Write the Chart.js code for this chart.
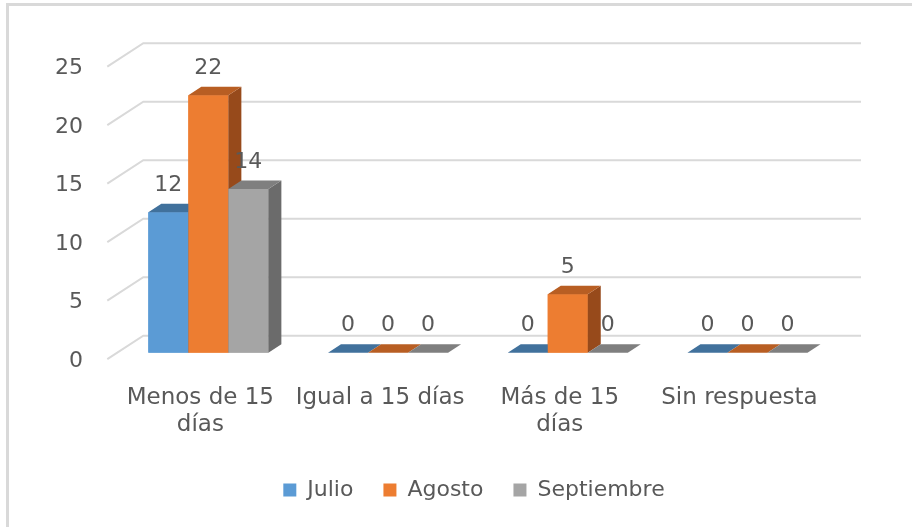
<!DOCTYPE html>
<html>
<head>
<meta charset="utf-8">
<script src="https://cdn.jsdelivr.net/npm/chart.js@4.4.0/dist/chart.umd.min.js"></script>
<style>
  html, body { margin: 0; padding: 0; background: #fff; overflow: hidden; }
  #frame { position: absolute; left: 6px; top: 3px; width: 1000px; height: 600px;
           border-left: 3px solid #d9d9d9; border-top: 3px solid #d9d9d9; }
  #wrap { position: absolute; left: 0; top: 0; width: 912px; height: 527px; }
</style>
</head>
<body>
<div id="frame"></div>
<div id="wrap"><canvas id="chart"></canvas></div>
<script>
// Chart data
const categories = [["Menos de 15", "días"], "Igual a 15 días", ["Más de 15", "días"], "Sin respuesta"];
const seriesNames = ["Julio", "Agosto", "Septiembre"];
const julio = [12, 0, 0, 0];
const agosto = [22, 0, 5, 0];
const septiembre = [14, 0, 0, 0];
const yTicks = [0, 5, 10, 15, 20, 25];

// Face colours for the 3D bars: front, top, side
const shades = [
  { front: "#5b9bd5", top: "#41719c", side: "#3a6591" },
  { front: "#ed7d31", top: "#b85e23", side: "#974a1b" },
  { front: "#a5a5a5", top: "#7f7f7f", side: "#6b6b6b" },
];

const DX = 13;   // depth offset of the bars
const DY = -8.5;
const TEXT = "#595959";

Chart.defaults.font.family = '"DejaVu Sans", sans-serif';

function poly(ctx, pts) {
  ctx.beginPath();
  ctx.moveTo(pts[0][0], pts[0][1]);
  for (let k = 1; k < pts.length; k++) ctx.lineTo(pts[k][0], pts[k][1]);
  ctx.closePath();
  ctx.fill();
}

// Back wall gridlines with the short diagonal to the floor front
const wallGrid = {
  id: "wallGrid",
  beforeDatasetsDraw(chart) {
    const { ctx, chartArea, scales } = chart;
    ctx.save();
    ctx.strokeStyle = "#d9d9d9";
    ctx.lineWidth = 2;
    yTicks.forEach((v) => {
      const py = scales.y.getPixelForValue(v);
      ctx.beginPath();
      ctx.moveTo(chartArea.left - 11.2, py + 6.5);
      ctx.lineTo(chartArea.left + 24.8, py - 17);
      ctx.lineTo(chartArea.right + 23.7, py - 17);
      ctx.stroke();
    });
    ctx.restore();
  },
};

// Redraw bars with top and side faces, then value labels
const bars3d = {
  id: "bars3d",
  afterDatasetsDraw(chart) {
    const ctx = chart.ctx;
    const metas = chart.data.datasets.map((d, i) => chart.getDatasetMeta(i));
    ctx.save();
    categories.forEach((c, j) => {
      metas.forEach((meta, i) => {
        const { x, y, base, width } = meta.data[j].getProps(["x", "y", "base", "width"], true);
        const x0 = x - width / 2;
        const x1 = x + width / 2;
        const col = shades[i];
        ctx.fillStyle = col.front;
        ctx.fillRect(x0, y, width, base - y);
        ctx.fillStyle = col.side;
        poly(ctx, [[x1, y], [x1 + DX, y + DY], [x1 + DX, base + DY], [x1, base]]);
        ctx.fillStyle = col.top;
        poly(ctx, [[x0, y], [x1, y], [x1 + DX, y + DY], [x0 + DX, y + DY]]);
      });
    });
    ctx.fillStyle = TEXT;
    ctx.font = '22px "DejaVu Sans", sans-serif';
    ctx.textAlign = "center";
    ctx.textBaseline = "middle";
    metas.forEach((meta, i) => {
      meta.data.forEach((bar, j) => {
        ctx.fillText(String(chart.data.datasets[i].data[j]), bar.x, bar.y - 27);
      });
    });
    ctx.restore();
  },
};

// Legend sits a bit right of the canvas centre
const legendShift = {
  id: "legendShift",
  afterLayout(chart) {
    chart.legend.left += 80.7;
  },
};

const ctx = document.getElementById("chart").getContext("2d");
new Chart(ctx, {
  type: "bar",
  data: {
    labels: categories,
    datasets: [julio, agosto, septiembre].map((data, i) => ({
      label: seriesNames[i],
      data: data,
      backgroundColor: shades[i].front,
      borderWidth: 0,
      categoryPercentage: 0.668,
      barPercentage: 1,
    })),
  },
  options: {
    responsive: true,
    maintainAspectRatio: false,
    animation: false,
    layout: {
      padding: { left: 30, right: 74.7, top: 60.2, bottom: 16 },
    },
    plugins: {
      tooltip: { enabled: false },
      legend: {
        position: "bottom",
        labels: {
          boxWidth: 13,
          boxHeight: 13,
          padding: 30,
          color: TEXT,
          font: { size: 22 },
        },
      },
    },
    scales: {
      x: {
        grid: { display: false, drawTicks: false },
        border: { display: false },
        ticks: {
          color: TEXT,
          font: { size: 23, lineHeight: 1.17 },
          padding: 31.8,
          labelOffset: -8,
          maxRotation: 0,
          autoSkip: false,
        },
        afterFit: (s) => { s.height = 96.3; },
      },
      y: {
        min: 0,
        max: 25,
        grid: { display: false, drawTicks: false },
        border: { display: false },
        ticks: {
          stepSize: 5,
          color: TEXT,
          font: { size: 22 },
          padding: 35.5,
          labelOffset: 8.5,
        },
        afterFit: (s) => { s.width = 88.5; },
      },
    },
  },
  plugins: [wallGrid, bars3d, legendShift],
});
</script>
</body>
</html>
